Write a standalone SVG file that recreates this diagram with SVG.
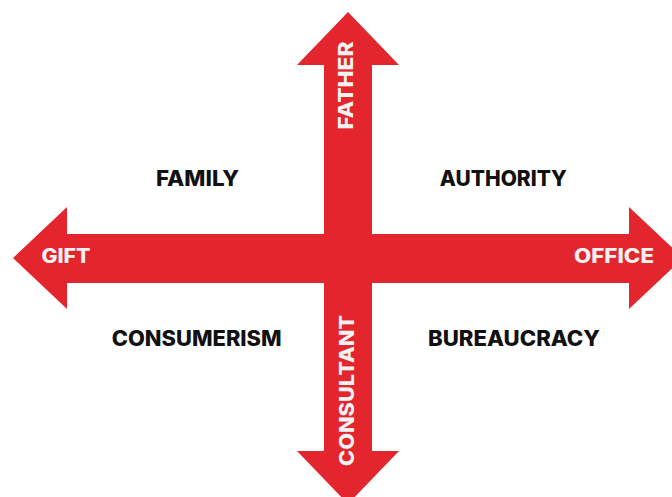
<svg xmlns="http://www.w3.org/2000/svg" width="672" height="497" viewBox="0 0 672 497">
  <style>
    .arrow { fill: #e3262d; }
    .quad { font-family: Inter, "Liberation Sans", sans-serif; font-weight: 800; font-size: 21px; fill: #111111; text-anchor: middle; }
    .axis { font-family: Inter, "Liberation Sans", sans-serif; font-weight: 800; font-size: 19.5px; fill: #f2f2f2; text-anchor: middle; }
  </style>
  <rect width="672" height="497" fill="#ffffff"/>

  <!-- axes: two double-headed arrows crossing -->
  <g id="connectors">
    <g id="vertical-axis">
      <polygon class="arrow" points="348,12 399,65 372,65 372,451 399,451 348,504 297,451 324,451 324,65 297,65"/>
    </g>
    <g id="horizontal-axis">
      <polygon class="arrow" points="13,258 67,207 67,234 629,234 629,207 683,258 629,309 629,283 67,283 67,309"/>
    </g>
  </g>

  <!-- axis end labels -->
  <g id="father">
    <text class="axis" transform="translate(353,85.5) rotate(-90)" textLength="88" lengthAdjust="spacingAndGlyphs">FATHER</text>
  </g>
  <g id="consultant">
    <text class="axis" transform="translate(353.5,390.5) rotate(-90)" textLength="151" lengthAdjust="spacingAndGlyphs">CONSULTANT</text>
  </g>
  <g id="gift">
    <text class="axis" x="66" y="263" textLength="49" lengthAdjust="spacingAndGlyphs">GIFT</text>
  </g>
  <g id="office">
    <text class="axis" x="614" y="263" textLength="80" lengthAdjust="spacingAndGlyphs">OFFICE</text>
  </g>

  <!-- quadrant labels -->
  <g id="family">
    <text class="quad" x="197.5" y="186" textLength="83" lengthAdjust="spacingAndGlyphs">FAMILY</text>
  </g>
  <g id="authority">
    <text class="quad" x="503.3" y="186" textLength="127" lengthAdjust="spacingAndGlyphs">AUTHORITY</text>
  </g>
  <g id="consumerism">
    <text class="quad" x="196.7" y="346" textLength="170" lengthAdjust="spacingAndGlyphs">CONSUMERISM</text>
  </g>
  <g id="bureaucracy">
    <text class="quad" x="514" y="346" textLength="172" lengthAdjust="spacingAndGlyphs">BUREAUCRACY</text>
  </g>
</svg>
